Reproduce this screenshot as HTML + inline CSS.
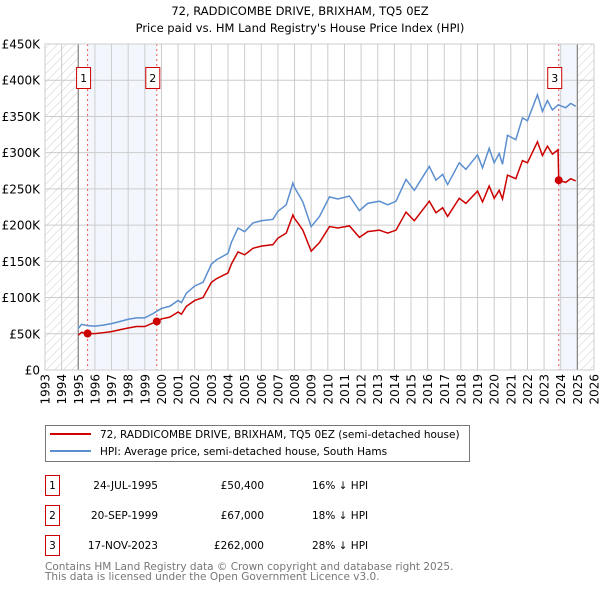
<!DOCTYPE html>
<html><head><meta charset="utf-8"><style>
html,body{margin:0;padding:0;background:#fff;}
svg{display:block;font-family:"DejaVu Sans","Liberation Sans",sans-serif;}
</style></head><body>
<svg id="chart" width="600" height="590" viewBox="0 0 600 590" xmlns="http://www.w3.org/2000/svg">
<defs>
<pattern id="hatch" patternUnits="userSpaceOnUse" width="6" height="6" patternTransform="rotate(45)">
<line x1="0" y1="0" x2="0" y2="6" stroke="#ccc" stroke-width="1"/>
</pattern>
</defs>
<text x="300" y="15" text-anchor="middle" font-size="11.5" fill="#000">72, RADDICOMBE DRIVE, BRIXHAM, TQ5 0EZ</text>
<text x="300" y="32" text-anchor="middle" font-size="11.5" fill="#000">Price paid vs. HM Land Registry's House Price Index (HPI)</text>
<g id="plot"></g>
<g>
<rect x="45.5" y="425.5" width="424" height="36" fill="#fff" stroke="#777"/>
<line x1="50" y1="434" x2="91" y2="434" stroke="#cc0000" stroke-width="2"/>
<text x="100" y="438" font-size="10.5">72, RADDICOMBE DRIVE, BRIXHAM, TQ5 0EZ (semi-detached house)</text>
<line x1="50" y1="451" x2="91" y2="451" stroke="#5b8fd0" stroke-width="2"/>
<text x="100" y="455" font-size="10.5">HPI: Average price, semi-detached house, South Hams</text>
</g>
<g font-size="10.5">
<rect x="45.5" y="475.5" width="14" height="20" fill="#fff" stroke="#cc0000"/>
<text x="52.5" y="489" text-anchor="middle">1</text>
<text x="158" y="489" text-anchor="end">24-JUL-1995</text>
<text x="264" y="489" text-anchor="end">£50,400</text>
<text x="312" y="489">16% ↓ HPI</text>
<rect x="45.5" y="505.5" width="14" height="20" fill="#fff" stroke="#cc0000"/>
<text x="52.5" y="519" text-anchor="middle">2</text>
<text x="158" y="519" text-anchor="end">20-SEP-1999</text>
<text x="264" y="519" text-anchor="end">£67,000</text>
<text x="312" y="519">18% ↓ HPI</text>
<rect x="45.5" y="535.5" width="14" height="20" fill="#fff" stroke="#cc0000"/>
<text x="52.5" y="549" text-anchor="middle">3</text>
<text x="158" y="549" text-anchor="end">17-NOV-2023</text>
<text x="264" y="549" text-anchor="end">£262,000</text>
<text x="312" y="549">28% ↓ HPI</text>
</g>
<text x="45" y="570" font-size="10.5" fill="#777">Contains HM Land Registry data © Crown copyright and database right 2025.</text>
<text x="45" y="580" font-size="10.5" fill="#777">This data is licensed under the Open Government Licence v3.0.</text>
</svg>
<script>
const hpiYears=[1995.0,1995.2,1995.6,1996.0,1996.5,1997.0,1997.5,1998.0,1998.5,1999.0,1999.5,2000.0,2000.5,2001.0,2001.2,2001.5,2002.0,2002.5,2003.0,2003.3,2004.0,2004.2,2004.6,2005.0,2005.5,2006.0,2006.7,2007.0,2007.5,2007.9,2008.0,2008.2,2008.5,2009.0,2009.5,2010.1,2010.6,2011.3,2011.9,2012.4,2013.1,2013.6,2014.1,2014.7,2015.2,2016.1,2016.5,2016.9,2017.2,2017.9,2018.3,2019.0,2019.3,2019.7,2020.0,2020.3,2020.5,2020.8,2021.3,2021.7,2022.0,2022.6,2022.9,2023.2,2023.5,2023.85,2024.3,2024.6,2024.9];
const hpiValues=[57.5,63,61,60.5,62,64,67,70,72,72,78,85,88,96,93,106,116,121,146,152,161,176,196,191,203,206,208,219,228,258,252,244,232,198,212,239,236,240,220,230,233,228,233,263,248,281,262,270,256,286,277,297,279,306,286,299,284,324,318,348,344,380,357,372,359,366,362,368,364];
const priceYears=[1995.0,1995.2,1995.56,1996.0,1996.5,1997.0,1997.5,1998.0,1998.5,1999.0,1999.5,1999.72,2000.0,2000.5,2001.0,2001.2,2001.5,2002.0,2002.5,2003.0,2003.3,2004.0,2004.2,2004.6,2005.0,2005.5,2006.0,2006.7,2007.0,2007.5,2007.9,2008.0,2008.2,2008.5,2009.0,2009.5,2010.1,2010.6,2011.3,2011.9,2012.4,2013.1,2013.6,2014.1,2014.7,2015.2,2016.1,2016.5,2016.9,2017.2,2017.9,2018.3,2019.0,2019.3,2019.7,2020.0,2020.3,2020.5,2020.8,2021.3,2021.7,2022.0,2022.6,2022.9,2023.2,2023.5,2023.84,2023.88,2024.3,2024.6,2024.9];
const priceValues=[48,52,50.4,50.2,51.5,53,55.6,58,60,60,65,67,70.5,73,80,77,88,96,100,121,126,134,146,163,159,168,171,173,182,189,214,209,203,193,164,176,198,196,199,183,191,193,189,193,218,206,233,217,224,212,237,230,247,232,254,237,248,236,269,264,289,286,315,296,309,298,304,262,259,264,261];
const saleYears=[1995.56,1999.72,2023.88];
const saleValues=[50.4,67,262];
const saleLabels=["1","2","3"];
const yTicks=[0,50,100,150,200,250,300,350,400,450];
const yTickLabels=["£0","£50K","£100K","£150K","£200K","£250K","£300K","£350K","£400K","£450K"];
const xTicks=[1993,1994,1995,1996,1997,1998,1999,2000,2001,2002,2003,2004,2005,2006,2007,2008,2009,2010,2011,2012,2013,2014,2015,2016,2017,2018,2019,2020,2021,2022,2023,2024,2025,2026];

const X0=45,X1=594,Y0=370,Y1=44,YMIN=1993,YMAX=2026,VMAX=450;
const xs=y=>X0+(y-YMIN)/(YMAX-YMIN)*(X1-X0);
const ys=v=>Y0-v/VMAX*(Y0-Y1);
const NS="http://www.w3.org/2000/svg";
const plot=document.getElementById('plot');
function mk(tag,attrs,parent){const e=document.createElementNS(NS,tag);for(const k in attrs)e.setAttribute(k,attrs[k]);(parent||plot).appendChild(e);return e;}

let e;
e=mk('rect',{x:xs(1993),y:Y1,width:xs(1995)-xs(1993),height:Y0-Y1,fill:'url(#hatch)'});


e=mk('rect',{x:xs(2025),y:Y1,width:xs(2026)-xs(2025),height:Y0-Y1,fill:'url(#hatch)'});


e=mk('rect',{x:xs(saleYears[0]),y:Y1,width:xs(saleYears[1])-xs(saleYears[0]),height:Y0-Y1,fill:'#eef3fc',opacity:0.7});


e=mk('rect',{x:xs(saleYears[2]),y:Y1,width:xs(2025)-xs(saleYears[2]),height:Y0-Y1,fill:'#eef3fc',opacity:0.7});



yTicks.forEach((v,i)=>{
 e=mk('line',{x1:X0,x2:X1,y1:ys(v),y2:ys(v),stroke:'#ccc','stroke-width':1});
 
 
 e=mk('text',{x:40,y:ys(v)+4.5,'text-anchor':'end','font-size':12});
 e.textContent=yTickLabels[i];
 
 
});
xTicks.forEach(t=>{
 const dark=(t===1995||t===2025);
 e=mk('line',{x1:xs(t),x2:xs(t),y1:Y1,y2:Y0,stroke:dark?'#888':'#ccc','stroke-width':dark?1.3:1});
 
 
 e=mk('text',{x:0,y:0,'text-anchor':'end','font-size':12,transform:`translate(${xs(t)+4.5},374) rotate(-90)`});
 e.textContent=String(t);
 
 
});
saleYears.forEach((y,i)=>{
 e=mk('line',{x1:xs(y),x2:xs(y),y1:Y1,y2:Y0,stroke:'#ee5555','stroke-width':1,'stroke-dasharray':'2,3'});
 
 
});
e=mk('polyline',{points:hpiYears.map((y,i)=>xs(y)+','+ys(hpiValues[i])).join(' '),fill:'none',stroke:'#5b8fd0','stroke-width':1.5});


e=mk('polyline',{points:priceYears.map((y,i)=>xs(y)+','+ys(priceValues[i])).join(' '),fill:'none',stroke:'#cc0000','stroke-width':1.5});


saleYears.forEach((y,i)=>{
 e=mk('circle',{cx:xs(y),cy:ys(saleValues[i]),r:4,fill:'#cc0000'});
 
 
 e=mk('rect',{x:xs(y)-11,y:67.5,width:14,height:21,fill:'#fff',stroke:'#cc0000'});
 
 
 e=mk('text',{x:xs(y)-4,y:82,'text-anchor':'middle','font-size':11});
 e.textContent=saleLabels[i];
 
 
});
e=mk('rect',{x:X0,y:Y1,width:X1-X0,height:Y0-Y1,fill:'none',stroke:'#ccc'});


</script>
</body></html>
